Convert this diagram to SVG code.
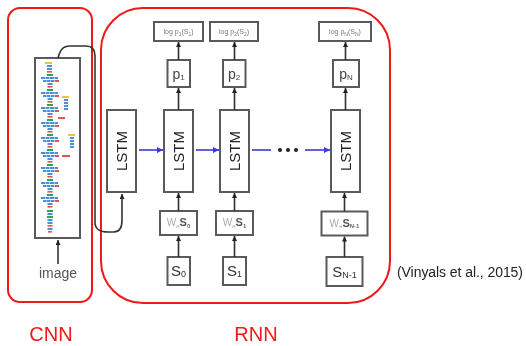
<svg xmlns="http://www.w3.org/2000/svg" xmlns:xlink="http://www.w3.org/1999/xlink" width="526" height="346" viewBox="0 0 526 346">
  <style>
    .frame { fill: none; stroke: #f01818; stroke-width: 2; }
    .tag { font-family: "Liberation Sans", Arial, sans-serif; font-size: 20px; fill: #f01818; text-anchor: middle; }
    .cite { font-family: "Liberation Sans", Arial, sans-serif; font-size: 14px; fill: #222; }
    .box { fill: #fff; stroke: #5a5a5a; stroke-width: 2; }
    .wire { fill: none; stroke: #333; stroke-width: 1.6; }
    .flow { fill: none; stroke: #3a3adc; stroke-width: 1.6; }
    .lstm { font-family: "Liberation Sans", Arial, sans-serif; font-size: 15px; fill: #222; text-anchor: middle; }
    .small { font-family: "Liberation Sans", Arial, sans-serif; font-size: 7px; fill: #777; text-anchor: middle; }
    .prob { font-family: "Liberation Sans", Arial, sans-serif; font-size: 14px; fill: #444; text-anchor: middle; }
    .emb { font-family: "Liberation Sans", Arial, sans-serif; font-size: 10px; fill: #aaa; text-anchor: middle; }
    .emb .s { fill: #555; font-size: 11px; font-weight: bold; }
    .emb .sub { fill: #666; font-size: 6px; font-weight: bold; }
    .emb .e { font-size: 6px; }
    .word { font-family: "Liberation Sans", Arial, sans-serif; font-size: 15px; fill: #333; text-anchor: middle; }
    .caption { font-family: "Liberation Sans", Arial, sans-serif; font-size: 14px; fill: #555; text-anchor: middle; }
    .bl { fill: #4a90d9; }
    .gr { fill: #2aa35a; }
    .rd { fill: #e0574f; }
    .ye { fill: #f0c23a; }
  </style>
  <defs>
    <filter id="soft" x="-5%" y="-5%" width="110%" height="110%">
      <feGaussianBlur stdDeviation="0.45"/>
    </filter>
    <marker id="head" viewBox="0 0 6 6" refX="6" refY="3" markerWidth="5" markerHeight="5" markerUnits="userSpaceOnUse" orient="auto">
      <path d="M0,0 L6,3 L0,6 z" fill="#222"/>
    </marker>
    <marker id="headBlue" viewBox="0 0 6 6" refX="6" refY="3" markerWidth="6" markerHeight="6" markerUnits="userSpaceOnUse" orient="auto">
      <path d="M0,0 L6,3 L0,6 z" fill="#3a3adc"/>
    </marker>
    <!-- one inception module of the convolutional stack -->
    <g id="inception">
      <rect class="gr" x="47" y="0" width="6" height="2"/>
      <rect class="bl" x="41" y="3" width="4" height="2"/>
      <rect class="bl" x="45.5" y="3" width="4" height="2"/>
      <rect class="bl" x="50" y="3" width="4" height="2"/>
      <rect class="bl" x="54.5" y="3" width="3.5" height="2"/>
      <rect class="bl" x="43" y="6" width="3.5" height="2"/>
      <rect class="bl" x="47" y="6" width="3.5" height="2"/>
      <rect class="bl" x="51" y="6" width="3.5" height="2"/>
      <rect class="rd" x="55" y="6" width="4" height="2"/>
      <rect class="bl" x="47.5" y="9" width="5" height="2"/>
      <rect class="rd" x="47.5" y="12" width="5" height="1.6"/>
    </g>
  </defs>

  <rect width="526" height="346" fill="#fff"/>

  <!-- grouping frames -->
  <g id="frames">
    <rect class="frame" x="8" y="8" width="84" height="294" rx="12"/>
    <rect class="frame" x="101" y="8" width="289" height="295" rx="42"/>
  </g>

  <g id="figure" filter="url(#soft)">
    <!-- CNN -->
    <g id="cnn">
      <rect class="box" x="35" y="58" width="45" height="180"/>
      <rect class="ye" x="45" y="62" width="7" height="2"/>
      <rect class="bl" x="47" y="65" width="5" height="2"/>
      <rect class="bl" x="47" y="68" width="5" height="2"/>
      <rect class="rd" x="47" y="71" width="5" height="1.6"/>
      <use xlink:href="#inception" y="74"/>
      <use xlink:href="#inception" y="89"/>
      <use xlink:href="#inception" y="104"/>
      <use xlink:href="#inception" y="119"/>
      <use xlink:href="#inception" y="134"/>
      <use xlink:href="#inception" y="149"/>
      <use xlink:href="#inception" y="164"/>
      <use xlink:href="#inception" y="179"/>
      <use xlink:href="#inception" y="194"/>
      <!-- auxiliary branches -->
      <rect class="ye" x="62" y="96" width="7" height="2"/>
      <rect class="bl" x="64" y="99" width="4" height="2"/>
      <rect class="bl" x="64" y="102" width="4" height="2"/>
      <rect class="bl" x="64" y="105" width="4" height="2"/>
      <rect class="bl" x="64" y="108" width="4" height="2"/>
      <rect class="rd" x="58" y="117" width="7" height="2"/>
      <rect class="ye" x="68" y="134" width="7" height="2"/>
      <rect class="bl" x="70" y="137" width="4" height="2"/>
      <rect class="bl" x="70" y="140" width="4" height="2"/>
      <rect class="bl" x="70" y="143" width="4" height="2"/>
      <rect class="bl" x="70" y="146" width="4" height="2"/>
      <rect class="rd" x="62" y="155" width="8" height="2"/>
      <!-- stem -->
      <rect class="gr" x="47" y="210" width="6" height="2"/>
      <rect class="bl" x="47.5" y="213" width="5" height="2"/>
      <rect class="gr" x="47" y="216" width="6" height="2"/>
      <rect class="bl" x="47.5" y="219" width="5" height="2"/>
      <rect class="bl" x="47.5" y="222" width="5" height="2"/>
      <rect class="rd" x="47.5" y="225" width="5" height="1.6"/>
      <rect class="bl" x="47.5" y="228" width="5" height="2"/>
      <rect class="rd" x="48" y="231" width="4" height="1.6"/>
      <text class="caption" x="58" y="278">image</text>
    </g>

    <!-- LSTM column 0 (image input) -->
    <g id="lstm0">
      <rect class="box" x="107" y="110" width="29" height="82"/>
      <text class="lstm" transform="translate(126.5,151) rotate(-90)">LSTM</text>
    </g>

    <!-- step 1 -->
    <g id="step1">
      <rect class="box" x="154" y="22" width="49" height="19"/>
      <text class="small" x="178.5" y="34">log p<tspan font-size="5" dy="1.5">1</tspan><tspan dy="-1.5">(S</tspan><tspan font-size="5" dy="1.5">1</tspan><tspan dy="-1.5">)</tspan></text>
      <rect class="box" x="167.5" y="60" width="22.5" height="27"/>
      <text class="prob" x="178.5" y="79">p<tspan font-size="8" dy="1">1</tspan></text>
      <rect class="box" x="164" y="110" width="29" height="82"/>
      <text class="lstm" transform="translate(183.5,151) rotate(-90)">LSTM</text>
      <rect class="box" x="160" y="211" width="37" height="24"/>
      <text class="emb" x="178.5" y="226">W<tspan class="e" dy="1.5">e</tspan><tspan class="s" dy="-1.5">S</tspan><tspan class="sub" dy="1.5">0</tspan></text>
      <rect class="box" x="167.5" y="257" width="22.5" height="28"/>
      <text class="word" x="178.5" y="276">S<tspan font-size="9" dy="1">0</tspan></text>
    </g>

    <!-- step 2 -->
    <g id="step2">
      <rect class="box" x="210" y="22" width="48" height="19"/>
      <text class="small" x="234" y="34">log p<tspan font-size="5" dy="1.5">2</tspan><tspan dy="-1.5">(S</tspan><tspan font-size="5" dy="1.5">2</tspan><tspan dy="-1.5">)</tspan></text>
      <rect class="box" x="223" y="60" width="22.5" height="27"/>
      <text class="prob" x="234" y="79">p<tspan font-size="8" dy="1">2</tspan></text>
      <rect class="box" x="220" y="110" width="29" height="82"/>
      <text class="lstm" transform="translate(239.5,151) rotate(-90)">LSTM</text>
      <rect class="box" x="216" y="211" width="37" height="24"/>
      <text class="emb" x="234.5" y="226">W<tspan class="e" dy="1.5">e</tspan><tspan class="s" dy="-1.5">S</tspan><tspan class="sub" dy="1.5">1</tspan></text>
      <rect class="box" x="223" y="257" width="23" height="28"/>
      <text class="word" x="234.5" y="276">S<tspan font-size="9" dy="1">1</tspan></text>
    </g>

    <!-- step N -->
    <g id="stepN">
      <rect class="box" x="319" y="22" width="52" height="19"/>
      <text class="small" x="345" y="34">log p<tspan font-size="5" dy="1.5">N</tspan><tspan dy="-1.5">(S</tspan><tspan font-size="5" dy="1.5">N</tspan><tspan dy="-1.5">)</tspan></text>
      <rect class="box" x="333" y="60" width="26" height="27"/>
      <text class="prob" x="346" y="79">p<tspan font-size="8" dy="1">N</tspan></text>
      <rect class="box" x="331" y="110" width="29" height="82"/>
      <text class="lstm" transform="translate(350.5,151) rotate(-90)">LSTM</text>
      <rect class="box" x="321.5" y="211.5" width="46" height="24"/>
      <text class="emb" x="344.5" y="226.5">W<tspan class="e" dy="1.5">e</tspan><tspan class="s" dy="-1.5">S</tspan><tspan class="sub" dy="1.5">N-1</tspan></text>
      <rect class="box" x="326.5" y="257" width="36" height="29"/>
      <text class="word" x="344.5" y="276.5">S<tspan font-size="9" dy="1">N-1</tspan></text>
    </g>

    <!-- connectors -->
    <g id="connectors">
      <line class="wire" x1="58" y1="264" x2="58" y2="240" marker-end="url(#head)"/>
      <path class="wire" d="M58,58 C60,50 63,46 70,46 L86,46 C92,46 95,50 95,56 L95,222 C95,230 100,232 108,232 L114,232 C120,232 122,228 122,220 L122,194" marker-end="url(#head)"/>

      <line class="wire" x1="178.5" y1="110" x2="178.5" y2="88" marker-end="url(#head)"/>
      <line class="wire" x1="178.5" y1="60" x2="178.5" y2="42" marker-end="url(#head)"/>
      <line class="wire" x1="178.5" y1="257" x2="178.5" y2="236" marker-end="url(#head)"/>
      <line class="wire" x1="178.5" y1="211" x2="178.5" y2="193" marker-end="url(#head)"/>

      <line class="wire" x1="234.5" y1="110" x2="234.5" y2="88" marker-end="url(#head)"/>
      <line class="wire" x1="234.5" y1="60" x2="234.5" y2="42" marker-end="url(#head)"/>
      <line class="wire" x1="234.5" y1="257" x2="234.5" y2="236" marker-end="url(#head)"/>
      <line class="wire" x1="234.5" y1="211" x2="234.5" y2="193" marker-end="url(#head)"/>

      <line class="wire" x1="345.5" y1="110" x2="345.5" y2="88" marker-end="url(#head)"/>
      <line class="wire" x1="345.5" y1="60" x2="345.5" y2="42" marker-end="url(#head)"/>
      <line class="wire" x1="344.5" y1="257" x2="344.5" y2="236.5" marker-end="url(#head)"/>
      <line class="wire" x1="344.5" y1="211.5" x2="344.5" y2="193" marker-end="url(#head)"/>

      <line class="flow" x1="139" y1="150" x2="163" y2="150" marker-end="url(#headBlue)"/>
      <line class="flow" x1="196" y1="150" x2="219" y2="150" marker-end="url(#headBlue)"/>
      <line class="flow" x1="252" y1="150" x2="271" y2="150"/>
      <circle cx="280" cy="150" r="2" fill="#222"/>
      <circle cx="288" cy="150" r="2" fill="#222"/>
      <circle cx="296" cy="150" r="2" fill="#222"/>
      <line class="flow" x1="305" y1="150" x2="330" y2="150" marker-end="url(#headBlue)"/>
    </g>
  </g>

  <text class="cite" x="397" y="277" textLength="126">(Vinyals et al., 2015)</text>
  <text class="tag" x="51" y="341">CNN</text>
  <text class="tag" x="256" y="341">RNN</text>
</svg>
